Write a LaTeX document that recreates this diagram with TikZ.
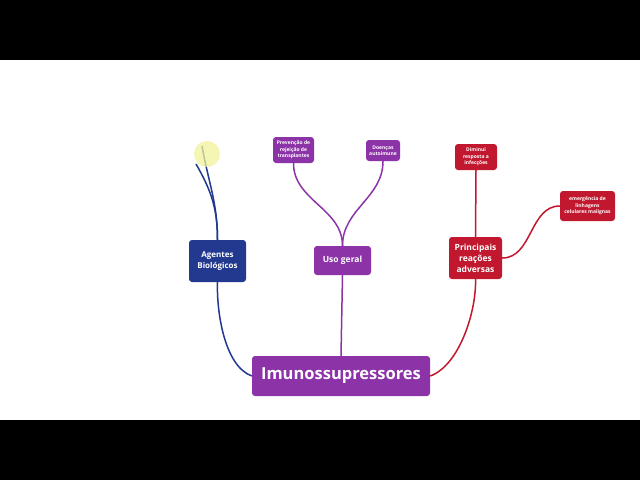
\documentclass[tikz,border=0pt]{standalone}
\usepackage{fontspec}
\setmainfont{Open Sans}
\usepackage{xcolor}
\usepackage{tikz}
\usetikzlibrary{positioning,calc}
\definecolor{mapnavy}{HTML}{22398F}
\definecolor{mappurple}{HTML}{8C33A8}
\definecolor{mapred}{HTML}{C1182F}
\definecolor{mapmark}{HTML}{F2F39A}
\begin{document}
\begin{tikzpicture}[x=1pt,y=-1pt,
  topic/.style={rounded corners=3pt,text=white,align=center,inner sep=0pt,font=\bfseries},
  leaf/.style={topic,font=\bfseries\fontsize{5}{6.5}\selectfont},
  branch/.style={line width=1.5pt}]
% frame of the video still
\useasboundingbox (0,0) rectangle (640,480);
\fill[white] (0,0) rectangle (640,480);
\fill[black] (0,0) rectangle (640,60);
\fill[black] (0,420) rectangle (640,480);
% central topic
\node[topic,fill=mappurple,minimum width=178,minimum height=40,font=\bfseries\fontsize{16.5}{19}\selectfont] (imuno) at (341,376) {Imunossupressores};
% main topics
\node[topic,fill=mapnavy,minimum width=57,minimum height=42,font=\bfseries\fontsize{8}{10.5}\selectfont] (agentes) at (217.5,261) {Agentes\\Biológicos};
\node[topic,fill=mappurple,minimum width=57,minimum height=29,font=\bfseries\fontsize{8.5}{10.5}\selectfont] (uso) at (342.5,260.5) {Uso geral};
\node[topic,fill=mapred,minimum width=53,minimum height=42,font=\bfseries\fontsize{8.5}{11}\selectfont] (reacoes) at (475.5,258) {Principais\\reações\\adversas};
% subtopics
\node[leaf,fill=mappurple,minimum width=41,minimum height=26] (prevencao) at (293.5,150) {Prevenção de\\rejeição de\\transplantes};
\node[leaf,fill=mappurple,minimum width=34,minimum height=21] (doencas) at (383,150.5) {Doenças\\autoimune};
\node[leaf,fill=mapred,minimum width=42,minimum height=26] (diminui) at (476,157) {Diminui\\resposta a\\infecções};
\node[leaf,fill=mapred,minimum width=55,minimum height=30] (emerg) at (587.5,206) {emergência de\\linhagens\\celulares malignas};
% branches
\draw[branch,mapnavy] (imuno.west) to[out=160,in=-92,looseness=0.75] (agentes.south);
\draw[branch,mappurple] (imuno.north) -- (uso.south);
\draw[branch,mapred] (imuno.east) to[out=20,in=-88,looseness=0.75] (reacoes.south);
\draw[branch,mappurple] (uso.north) to[out=90,in=-90] (prevencao.south);
\draw[branch,mappurple] (uso.north) to[out=90,in=-90] (doencas.south);
\draw[branch,mapred] (reacoes.north) -- (diminui.south);
\draw[branch,mapred] (reacoes.east) to[out=0,in=180] (emerg.west);
% loose ends above Agentes Biologicos
\coordinate (endA) at (202,146);
\coordinate (endB) at (196,164);
\draw[branch,mapnavy] (agentes.north) to[out=90,in=-80] (endA);
\draw[branch,mapnavy] (agentes.north) to[out=90,in=-60] (endB);
\fill[mapmark,opacity=0.75] (207,154) circle (13);
\end{tikzpicture}
\end{document}
